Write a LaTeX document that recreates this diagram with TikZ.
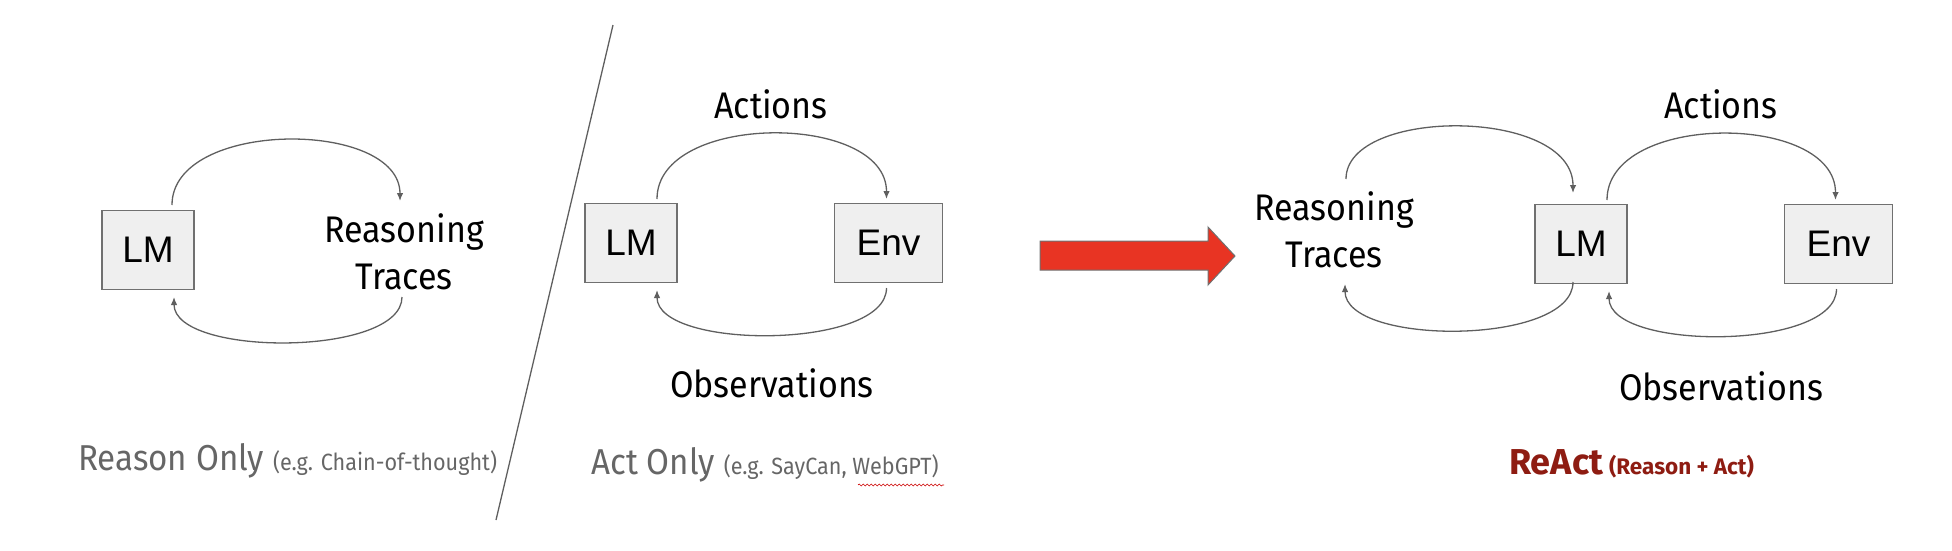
\documentclass[tikz,border=0pt]{standalone}
\usepackage{fontspec}
\usepackage{xcolor}
\usepackage{tikz}
\usetikzlibrary{positioning,arrows.meta,decorations.pathmorphing}
\newfontfamily\labelfont[FakeStretch=0.92]{Fira Sans}
\newfontfamily\reactfont{Fira Sans}
\newfontfamily\boxfont{Liberation Sans}
\definecolor{colorbox}    {RGB}{239,239,239}
\definecolor{colorframe}  {RGB}{112,112,112}
\definecolor{colorline}   {RGB}{95,95,95}
\definecolor{colorcaption}{RGB}{102,102,102}
\definecolor{colorreact}  {RGB}{142,28,18}
\definecolor{colorarrow}  {RGB}{232,52,35}

\begin{document}
\begin{tikzpicture}[
    x=1pt, y=-1pt, >={Latex[length=8pt,width=6.5pt]},
    font={\labelfont\fontsize{37}{47}\selectfont},
    unit/.style={draw=colorframe,line width=1.5pt,fill=colorbox,inner sep=0pt,minimum height=79pt,minimum width=92pt,font={\boxfont\fontsize{37}{40}\selectfont}},
    envunit/.style={unit,minimum width=108pt},
    trace/.style={align=center,inner sep=0pt},
    loop/.style={->,draw=colorline,line width=1.3pt},
    caption/.style={anchor=base west,inner sep=0pt,text=colorcaption},
]
    \useasboundingbox (0,0) rectangle (1952,550);

    % Reason only
    \node[unit] (lm1) at (148,250) {LM};
    \node[trace] (rt1) at (404,252) {Reasoning\\Traces};

    % Act only
    \node[unit] (lm2) at (631,243) {LM};
    \node[envunit, right=156pt of lm2] (env1) {Env};
    \node[trace] (act1) at (771,104) {Actions};
    \node[trace] (obs1) at (772,383) {Observations};

    % ReAct
    \node[trace] (rt2) at (1334,230) {Reasoning\\Traces};
    \node[unit] (lm3) at (1581,244) {LM};
    \node[envunit, right=156pt of lm3] (env2) {Env};
    \node[trace] (act2) at (1721,104) {Actions};
    \node[trace] (obs2) at (1721,386) {Observations};

    % Captions
    \node[caption] (cap1) at (78,470) {{\fontsize{36}{40}\selectfont Reason Only} {\fontsize{23.5}{26}\selectfont (e.g. Chain-of-thought)}};
    \node[caption] (cap2) at (591,474) {{\fontsize{36}{40}\selectfont Act Only} {\fontsize{23.5}{26}\selectfont (e.g. SayCan, WebGPT)}};
    \node[caption,text=colorreact,font={\reactfont\bfseries}] (cap3) at (1509,474) {{\fontsize{36}{40}\selectfont ReAct}\hspace{6pt}{\fontsize{22.5}{26}\selectfont (Reason + Act)}};
    \draw[red!80!black,line width=0.6pt,decorate,decoration={snake,amplitude=1pt,segment length=4pt}] (858,485) -- (944,485);

    % Divider and big arrow
    \coordinate (cuttop) at (613,25);
    \coordinate (cutbot) at (496,520);
    \draw[colorline,line width=1.3pt] (cuttop) -- (cutbot);
    \draw[draw=colorframe,line width=1pt,fill=colorarrow] (1040,241) -- (1208,241) -- (1208,227) -- (1235,256) -- (1208,285) -- (1208,270) -- (1040,270) -- cycle;

    % Loops
    \draw[loop] ([shift={(24,-45)}]lm1.center) .. controls +(0,-86) and +(0,-82) .. ([shift={(-4,-51)}]rt1.center);
    \draw[loop] ([shift={(-2,45)}]rt1.center) .. controls +(0,60) and +(0,60) .. ([shift={(26,47)}]lm1.center);

    \draw[loop] ([shift={(26,-44)}]lm2.center) .. controls +(0,-87) and +(0,-87) .. ([shift={(-2,-44)}]env1.center);
    \draw[loop] ([shift={(-2,45)}]env1.center) .. controls +(0,62) and +(0,60) .. ([shift={(26,47)}]lm2.center);

    \draw[loop] ([shift={(12,-51)}]rt2.center) .. controls +(0,-72) and +(0,-86) .. ([shift={(-8,-51)}]lm3.center);
    \draw[loop] ([shift={(-8,38)}]lm3.center) .. controls +(0,64) and +(0,62) .. ([shift={(11,54)}]rt2.center);
    \draw[loop] ([shift={(26,-44)}]lm3.center) .. controls +(0,-88) and +(0,-88) .. ([shift={(-3,-44)}]env2.center);
    \draw[loop] ([shift={(-2,45)}]env2.center) .. controls +(0,62) and +(0,60) .. ([shift={(28,47)}]lm3.center);

\end{tikzpicture}
\end{document}
